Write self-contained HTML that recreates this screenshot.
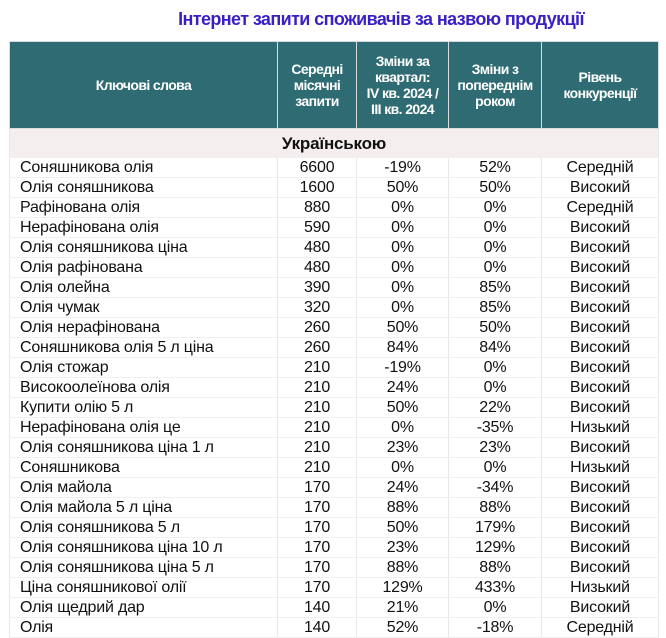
<!DOCTYPE html><html><head><meta charset="utf-8"><style>
body{margin:0;width:666px;height:622px;overflow:hidden;background:#fff;font-family:"Liberation Sans",sans-serif}
.t{position:absolute;left:166px;top:9px;width:430px;text-align:center;font-weight:bold;font-size:18px;color:#3a1fc4;letter-spacing:-0.6px;white-space:nowrap}
table{position:absolute;left:9px;top:41px;border-collapse:collapse;table-layout:fixed;width:649px}
th{background:#2f6b73;color:#fff;font-size:14px;font-weight:bold;line-height:16px;height:86px;padding:0;border:1px solid #d8dcdc;letter-spacing:-0.6px}
td{height:19px;padding:0;font-size:16px;line-height:19px;border-left:1px solid #e8e8e8;border-right:1px solid #e8e8e8;border-bottom:1px solid #f0f0f0;text-align:center;color:#111;letter-spacing:-0.2px;white-space:nowrap}
td:first-child{text-align:left;padding-left:10px}
tr.s td{background:#f4eeee;font-weight:bold;text-align:center;height:28px;font-size:17px;padding:0}
</style></head><body>
<div class="t">Інтернет запити споживачів за назвою продукції</div>
<table><colgroup><col style="width:268px"><col style="width:79px"><col style="width:92px"><col style="width:93px"><col style="width:117px"></colgroup>
<tr><th>Ключові слова</th><th>Середні<br>місячні<br>запити</th><th>Зміни за<br>квартал:<br>IV кв. 2024 /<br>III кв. 2024</th><th>Зміни з<br>попереднім<br>роком</th><th>Рівень<br>конкуренції</th></tr>
<tr class="s"><td colspan="5">Українською</td></tr>
<tr><td>Соняшникова олія</td><td>6600</td><td>-19%</td><td>52%</td><td>Середній</td></tr>
<tr><td>Олія соняшникова</td><td>1600</td><td>50%</td><td>50%</td><td>Високий</td></tr>
<tr><td>Рафінована олія</td><td>880</td><td>0%</td><td>0%</td><td>Середній</td></tr>
<tr><td>Нерафінована олія</td><td>590</td><td>0%</td><td>0%</td><td>Високий</td></tr>
<tr><td>Олія соняшникова ціна</td><td>480</td><td>0%</td><td>0%</td><td>Високий</td></tr>
<tr><td>Олія рафінована</td><td>480</td><td>0%</td><td>0%</td><td>Високий</td></tr>
<tr><td>Олія олейна</td><td>390</td><td>0%</td><td>85%</td><td>Високий</td></tr>
<tr><td>Олія чумак</td><td>320</td><td>0%</td><td>85%</td><td>Високий</td></tr>
<tr><td>Олія нерафінована</td><td>260</td><td>50%</td><td>50%</td><td>Високий</td></tr>
<tr><td>Соняшникова олія 5 л ціна</td><td>260</td><td>84%</td><td>84%</td><td>Високий</td></tr>
<tr><td>Олія стожар</td><td>210</td><td>-19%</td><td>0%</td><td>Високий</td></tr>
<tr><td>Високоолеїнова олія</td><td>210</td><td>24%</td><td>0%</td><td>Високий</td></tr>
<tr><td>Купити олію 5 л</td><td>210</td><td>50%</td><td>22%</td><td>Високий</td></tr>
<tr><td>Нерафінована олія це</td><td>210</td><td>0%</td><td>-35%</td><td>Низький</td></tr>
<tr><td>Олія соняшникова ціна 1 л</td><td>210</td><td>23%</td><td>23%</td><td>Високий</td></tr>
<tr><td>Соняшникова</td><td>210</td><td>0%</td><td>0%</td><td>Низький</td></tr>
<tr><td>Олія майола</td><td>170</td><td>24%</td><td>-34%</td><td>Високий</td></tr>
<tr><td>Олія майола 5 л ціна</td><td>170</td><td>88%</td><td>88%</td><td>Високий</td></tr>
<tr><td>Олія соняшникова 5 л</td><td>170</td><td>50%</td><td>179%</td><td>Високий</td></tr>
<tr><td>Олія соняшникова ціна 10 л</td><td>170</td><td>23%</td><td>129%</td><td>Високий</td></tr>
<tr><td>Олія соняшникова ціна 5 л</td><td>170</td><td>88%</td><td>88%</td><td>Високий</td></tr>
<tr><td>Ціна соняшникової олії</td><td>170</td><td>129%</td><td>433%</td><td>Низький</td></tr>
<tr><td>Олія щедрий дар</td><td>140</td><td>21%</td><td>0%</td><td>Високий</td></tr>
<tr><td>Олія</td><td>140</td><td>52%</td><td>-18%</td><td>Середній</td></tr>
</table></body></html>
